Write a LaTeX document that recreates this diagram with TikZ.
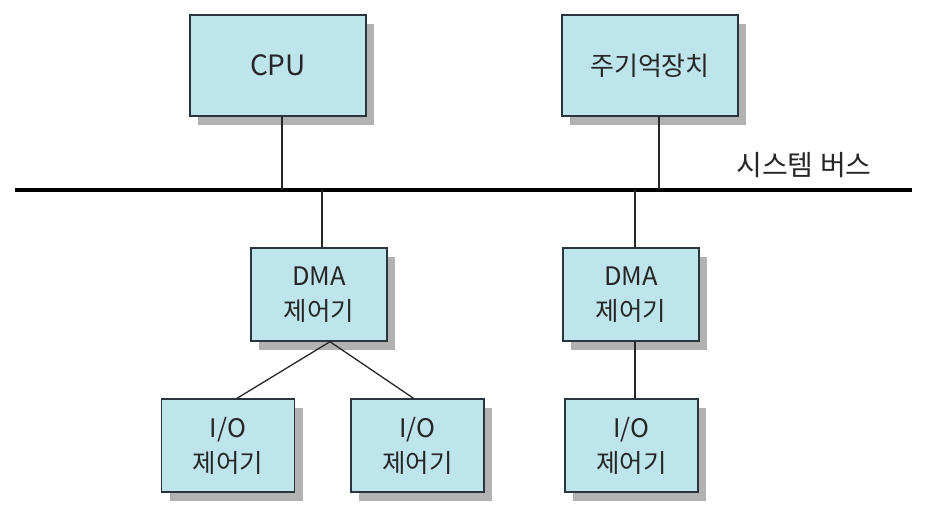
\documentclass[tikz,border=0pt]{standalone}
\usepackage{fontspec}
\newfontfamily\kr{Noto Sans CJK KR}
\usetikzlibrary{shadows}
\definecolor{boxfill}{RGB}{190,228,236}
\definecolor{boxline}{RGB}{42,54,62}

\begin{document}
\begin{tikzpicture}[x=1pt,y=-1pt,
  unit/.style={draw=boxline,line width=1.4pt,fill=boxfill,align=center,inner sep=0pt,
    text=black!85,font=\kr\fontsize{25.5}{35}\selectfont,
    drop shadow={shadow xshift=8pt,shadow yshift=-9pt,fill=black!60,opacity=.5}},
  wire/.style={line width=1.3pt,draw=black!85}]
  \useasboundingbox (0,0) rectangle (935,511);
  \node[unit,minimum width=176pt,minimum height=101pt,font=\kr\fontsize{28}{30}\selectfont] (cpu) at (278,65.5) {CPU};
  \node[unit,minimum width=176pt,minimum height=101pt,font=\kr\fontsize{26}{30}\selectfont] (mem) at (650,65.5) {주기억장치};
  \coordinate (busl) at (15,190);
  \coordinate (busr) at (912,190);
  \draw[line width=4pt] (busl) -- (busr);
  \node[font=\kr\fontsize{28}{30}\selectfont,text=black!85] (buslabel) at (804,165) {시스템 버스};
  \foreach \n/\x in {dmaa/319,dmab/631}{\node[unit,minimum width=136pt,minimum height=93pt] (\n) at (\x,294.5) {DMA\\제어기};}
  \foreach \n/\x in {ioa/228,iob/417.5,ioc/631.5}{\node[unit,minimum width=133pt,minimum height=93pt] (\n) at (\x,445.5) {I/O\\제어기};}
  \coordinate (cputap) at ([xshift=4pt]cpu.south);
  \coordinate (memtap) at ([xshift=9pt]mem.south);
  \coordinate (dmaatap) at ([xshift=3pt]dmaa.north);
  \coordinate (dmabtap) at ([xshift=4pt]dmab.north);
  \coordinate (fork) at ([xshift=11pt]dmaa.south);
  \draw[wire] (cputap) -- (cputap |- busl);
  \draw[wire] (memtap) -- (memtap |- busl);
  \draw[wire] (dmaatap |- busl) -- (dmaatap);
  \draw[wire] (dmabtap |- busl) -- (dmabtap);
  \draw[wire] (fork) -- ([xshift=9pt]ioa.north);
  \draw[wire] (fork) -- ([xshift=-4pt]iob.north);
  \draw[wire] ([xshift=4pt]dmab.south) -- ([xshift=3.5pt]ioc.north);
\end{tikzpicture}
\end{document}
